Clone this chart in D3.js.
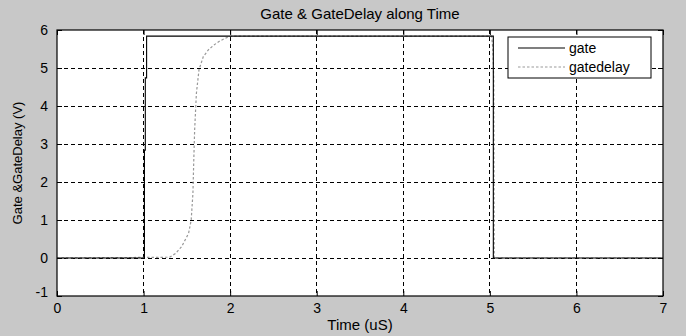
<!DOCTYPE html>
<html><head><meta charset="utf-8">
<script src="https://cdn.jsdelivr.net/npm/d3@7"></script>
<style>body{margin:0;background:#c8c8c8;}svg{display:block;font-family:"Liberation Sans",Arial,sans-serif;}</style>
</head><body>
<svg id="c" width="686" height="336"></svg>
<script>
const xTicks = [0,1,2,3,4,5,6,7];
const yTicks = [-1,0,1,2,3,4,5,6];
const gateTime  = [0, 1.01, 1.01, 1.02, 1.02, 1.035, 1.035, 5.04, 5.04, 7];
const gateValue = [0, 0,    2.84, 2.84, 4.74, 4.74,  5.84,  5.84, 0,    0];
const delayTime  = [0, 1.30, 1.37, 1.44, 1.52, 1.55, 1.57, 1.58, 1.59, 1.61, 1.64, 1.69, 1.75, 1.81, 1.88, 1.96, 2.02, 5.02, 5.035, 5.045, 5.05, 7];
const delayValue = [0, 0.02, 0.12, 0.30, 0.65, 1.00, 1.70, 2.58, 3.37, 4.33, 4.95, 5.30, 5.48, 5.60, 5.71, 5.80, 5.84, 5.84, 5.5,   4.7,   0,    0];
const seriesNames = ["gate","gatedelay"];

const svg = d3.select("#c");
const W=686,H=336, L=57, R=663, T=30, B=296;
svg.append("rect").attr("width",W).attr("height",H).attr("fill","#c8c8c8");
const x = d3.scaleLinear().domain([0,7]).range([L,R]);
const y = d3.scaleLinear().domain([-1,6]).range([B,T]);
svg.append("rect").attr("x",L).attr("y",T).attr("width",R-L).attr("height",B-T).attr("fill","#fff");

// grid
const g = svg.append("g");
xTicks.slice(1,-1).forEach(v=>g.append("line").attr("x1",x(v)).attr("x2",x(v)).attr("y1",T).attr("y2",B)
  .attr("stroke","#000").attr("stroke-width",1).attr("stroke-dasharray","4,3").attr("shape-rendering","crispEdges"));
yTicks.slice(1,-1).forEach(v=>g.append("line").attr("y1",y(v)).attr("y2",y(v)).attr("x1",L).attr("x2",R)
  .attr("stroke","#000").attr("stroke-width",1).attr("stroke-dasharray","4,3").attr("shape-rendering","crispEdges"));

// lines
const line = d3.line().x(d=>x(d[0])).y(d=>y(d[1]));
svg.append("path").datum(delayTime.map((t,i)=>[t,delayValue[i]])).attr("d",line)
  .attr("fill","none").attr("stroke","#999").attr("stroke-width",1.2).attr("stroke-dasharray","2.5,2");
svg.append("path").datum(gateTime.map((t,i)=>[t,gateValue[i]])).attr("d",line)
  .attr("fill","none").attr("stroke","#000").attr("stroke-width",1.1);

// axes
const tk=5;
const fmt = d => String(d);
const ax = d3.axisBottom(x).tickValues(xTicks).tickSize(-tk).tickPadding(tk+4).tickFormat(fmt);
const axT = d3.axisTop(x).tickValues(xTicks).tickSize(-tk).tickFormat("");
const ay = d3.axisLeft(y).tickValues(yTicks).tickSize(-tk).tickPadding(tk+4).tickFormat(fmt);
const ayR = d3.axisRight(y).tickValues(yTicks).tickSize(-tk).tickFormat("");
function style(s){ s.selectAll("path").attr("stroke","#000").attr("stroke-width",1.2);
  s.selectAll("line").attr("stroke","#000"); s.selectAll("text").attr("font-size",14).attr("fill","#000")
   .attr("font-family","Liberation Sans, Arial, sans-serif"); s.select(".domain").attr("d",null); }
const gx = svg.append("g").attr("transform",`translate(0,${B})`).call(ax).call(style);
svg.append("g").attr("transform",`translate(0,${T})`).call(axT).call(style);
const gy = svg.append("g").attr("transform",`translate(${L},0)`).call(ay).call(style);
svg.append("g").attr("transform",`translate(${R},0)`).call(ayR).call(style);
gy.selectAll(".tick").filter(d=>d===-1).select("text").attr("dy","0.05em");
gx.selectAll("text").attr("dy","0.55em");
// frame
svg.append("rect").attr("x",L).attr("y",T).attr("width",R-L).attr("height",B-T).attr("fill","none")
  .attr("stroke","#000").attr("stroke-width",1.2);

// titles
svg.append("text").attr("x",(L+R)/2).attr("y",19).attr("text-anchor","middle").attr("font-size",15).text("Gate & GateDelay along Time");
svg.append("text").attr("x",(L+R)/2).attr("y",330).attr("text-anchor","middle").attr("font-size",15).text("Time (uS)");
svg.append("text").attr("transform",`translate(22,${(T+B)/2}) rotate(-90)`).attr("text-anchor","middle").attr("font-size",13).text("Gate &GateDelay (V)");

// legend
const lg = svg.append("g");
lg.append("rect").attr("x",508).attr("y",37).attr("width",143).attr("height",41).attr("fill","#fff").attr("stroke","#000").attr("stroke-width",1);
const styles=[{c:"#000",d:null,w:1.1},{c:"#999",d:"2.5,2",w:1.2}];
seriesNames.forEach((n,i)=>{
  const yy = 48+i*19;
  lg.append("line").attr("x1",518).attr("x2",565).attr("y1",yy).attr("y2",yy).attr("stroke",styles[i].c).attr("stroke-width",styles[i].w).attr("stroke-dasharray",styles[i].d);
  lg.append("text").attr("x",569).attr("y",yy+5).attr("font-size",14).text(n);
});
</script>
</body></html>
